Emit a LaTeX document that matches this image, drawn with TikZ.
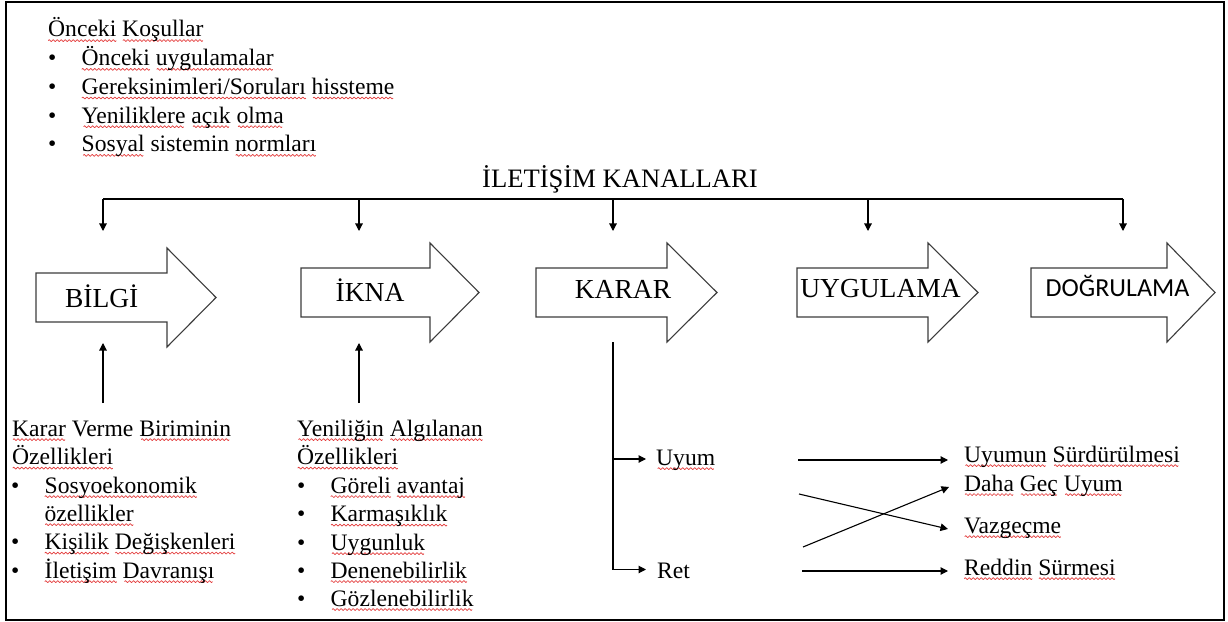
\documentclass[tikz,border=0pt]{standalone}
\usepackage{fontspec}
\setmainfont{Liberation Serif}
\newfontfamily\stagesans{Carlito}
\usetikzlibrary{arrows.meta}

\definecolor{spellred}{RGB}{228,60,60}
\definecolor{inkgray}{RGB}{60,60,60}

% one period of the red wavy underline
\newcommand\wavetile{\tikz[baseline=0pt]{\useasboundingbox (0bp,0bp) rectangle (4bp,0bp);
  \draw[spellred,line width=0.7bp,line join=round] (0bp,-3.6bp) -- (1bp,-2.6bp) -- (3bp,-4.6bp) -- (4bp,-3.6bp);}}
% a word with a wavy underline
\newsavebox\sqbox
\newlength\sqwd
\newcommand\sq[1]{\sbox\sqbox{#1}\setlength\sqwd{\wd\sqbox}%
  \rlap{\cleaders\hbox{\wavetile}\hskip\sqwd}\usebox\sqbox}
\newcommand\bul{\makebox[33.5bp][l]{•}}

\begin{document}
\begin{tikzpicture}[x=1bp,y=-1bp,
  lt/.style={anchor=base west, inner sep=0pt, font=\fontsize{23.6bp}{28bp}\selectfont},
  stagelbl/.style={anchor=base, inner sep=0pt, font=\fontsize{27.5bp}{32bp}\selectfont},
  stage/.style={draw=inkgray, line width=1.1bp, fill=white, line join=miter},
  conn/.style={draw=black, line width=1.1bp, -{Triangle[length=7.5bp,width=7.5bp]}},
  plainline/.style={draw=black, line width=1.1bp}]

\fill[white] (0,0) rectangle (1228,622);
\useasboundingbox (0,0) rectangle (1228,622);
\draw[line width=2bp] (6,2.5) rectangle (1224,619.5);

% prior conditions
\node[lt] (pc0) at (48,37)    {\sq{Önceki} \sq{Koşullar}};
\node[lt] (pc1) at (48,65.7)  {\bul\sq{Önceki} \sq{uygulamalar}};
\node[lt] (pc2) at (48,94.4)  {\bul\sq{Gereksinimleri/Soruları} \sq{hissteme}};
\node[lt] (pc3) at (48,123.1) {\bul\sq{Yeniliklere} \sq{açık} \sq{olma}};
\node[lt] (pc4) at (48,151.8) {\bul\sq{Sosyal} sistemin \sq{normları}};

% communication channels bus
\node[anchor=base, inner sep=0pt, font=\fontsize{26.6bp}{30bp}\selectfont] (chan) at (620,188) {İLETİŞİM KANALLARI};
\coordinate (b1) at (103,199);
\coordinate (b2) at (359,199);
\coordinate (b3) at (613,199);
\coordinate (b4) at (868,199);
\coordinate (b5) at (1123,199);
\coordinate (d1) at (103,231);
\coordinate (d2) at (359,231);
\coordinate (d3) at (613,231);
\coordinate (d4) at (868,231);
\coordinate (d5) at (1123,231);
\draw[plainline] (b1) -- (b5);
\foreach \i in {1,...,5} \draw[conn] (b\i) -- (d\i);

% stage block arrows: left, head base, tip, body top
\newcommand\stagearrow[4]{%
  \draw[stage] (#1,#4) -- (#2,#4) -- (#2,#4-25) -- (#3,#4+24.5) -- (#2,#4+74)
    -- (#2,#4+49) -- (#1,#4+49) -- cycle;}
\stagearrow{36}{167}{216}{273}
\stagearrow{301}{430}{479}{268}
\stagearrow{536}{667}{717}{268}
\stagearrow{797}{928}{978}{268}
\stagearrow{1031}{1167}{1215}{268}

\node[stagelbl] (bilgi) at (101.7,308) {BİLGİ};
\node[stagelbl] (ikna) at (370,301.5) {İKNA};
\node[stagelbl] (karar) at (623,299) {KARAR};
\node[stagelbl] (uygulama) at (880.5,298) {UYGULAMA};
\node[stagelbl, font=\stagesans\fontsize{26bp}{30bp}\selectfont] (dogrulama) at (1117.5,297) {DOĞRULAMA};

% inputs from below
\coordinate (u1) at (103,403);
\coordinate (v1) at (103,343);
\coordinate (u2) at (359,403);
\coordinate (v2) at (359,343);
\draw[conn] (u1) -- (v1);
\draw[conn] (u2) -- (v2);

% decision-making unit characteristics
\node[lt] (kv0) at (12,436)   {\sq{Karar} Verme \sq{Biriminin}};
\node[lt] (kv1) at (12,464.5) {\sq{Özellikleri}};
\node[lt] (kv2) at (11,493)   {\bul\sq{Sosyoekonomik}};
\node[lt] (kv3) at (44.5,521) {\sq{özellikler}};
\node[lt] (kv4) at (11,549.5) {\bul\sq{Kişilik} \sq{Değişkenleri}};
\node[lt] (kv5) at (11,578)   {\bul\sq{İletişim} \sq{Davranışı}};

% perceived characteristics of the innovation
\node[lt] (yo0) at (297,436)   {\sq{Yeniliğin} \sq{Algılanan}};
\node[lt] (yo1) at (297,464.5) {\sq{Özellikleri}};
\node[lt] (yo2) at (297,493)   {\bul\sq{Göreli} \sq{avantaj}};
\node[lt] (yo3) at (297,521.5) {\bul\sq{Karmaşıklık}};
\node[lt] (yo4) at (297,550)   {\bul\sq{Uygunluk}};
\node[lt] (yo5) at (297,578)   {\bul\sq{Denenebilirlik}};
\node[lt] (yo6) at (297,606)   {\bul\sq{Gözlenebilirlik}};

% decision branches
\coordinate (k0) at (613,342);
\coordinate (k1) at (613,459);
\coordinate (ka) at (646,459);
\coordinate (kr) at (646,569.5);
\draw[conn] (k0) |- (kr);
\draw[conn] (k1) -- (ka);
\node[lt] (uyum) at (656,465) {\sq{Uyum}};
\node[lt] (ret) at (657,578) {Ret};

% outcomes
\node[lt] (o1) at (964,462) {\sq{Uyumun} \sq{Sürdürülmesi}};
\node[lt] (o2) at (964,491) {\sq{Daha} \sq{Geç} \sq{Uyum}};
\node[lt] (o3) at (964,533) {\sq{Vazgeçme}};
\node[lt] (o4) at (964,575) {\sq{Reddin} \sq{Sürmesi}};

\coordinate (s1) at (798,460);
\coordinate (t1) at (948,460);
\coordinate (s2) at (799,494);
\coordinate (t2) at (948,529);
\coordinate (s3) at (803,547);
\coordinate (t3) at (949,487);
\coordinate (s4) at (802,571);
\coordinate (t4) at (948,571);
\draw[conn] (s1) -- (t1);
\draw[conn] (s2) -- (t2);
\draw[conn] (s3) -- (t3);
\draw[conn] (s4) -- (t4);
\end{tikzpicture}
\end{document}
